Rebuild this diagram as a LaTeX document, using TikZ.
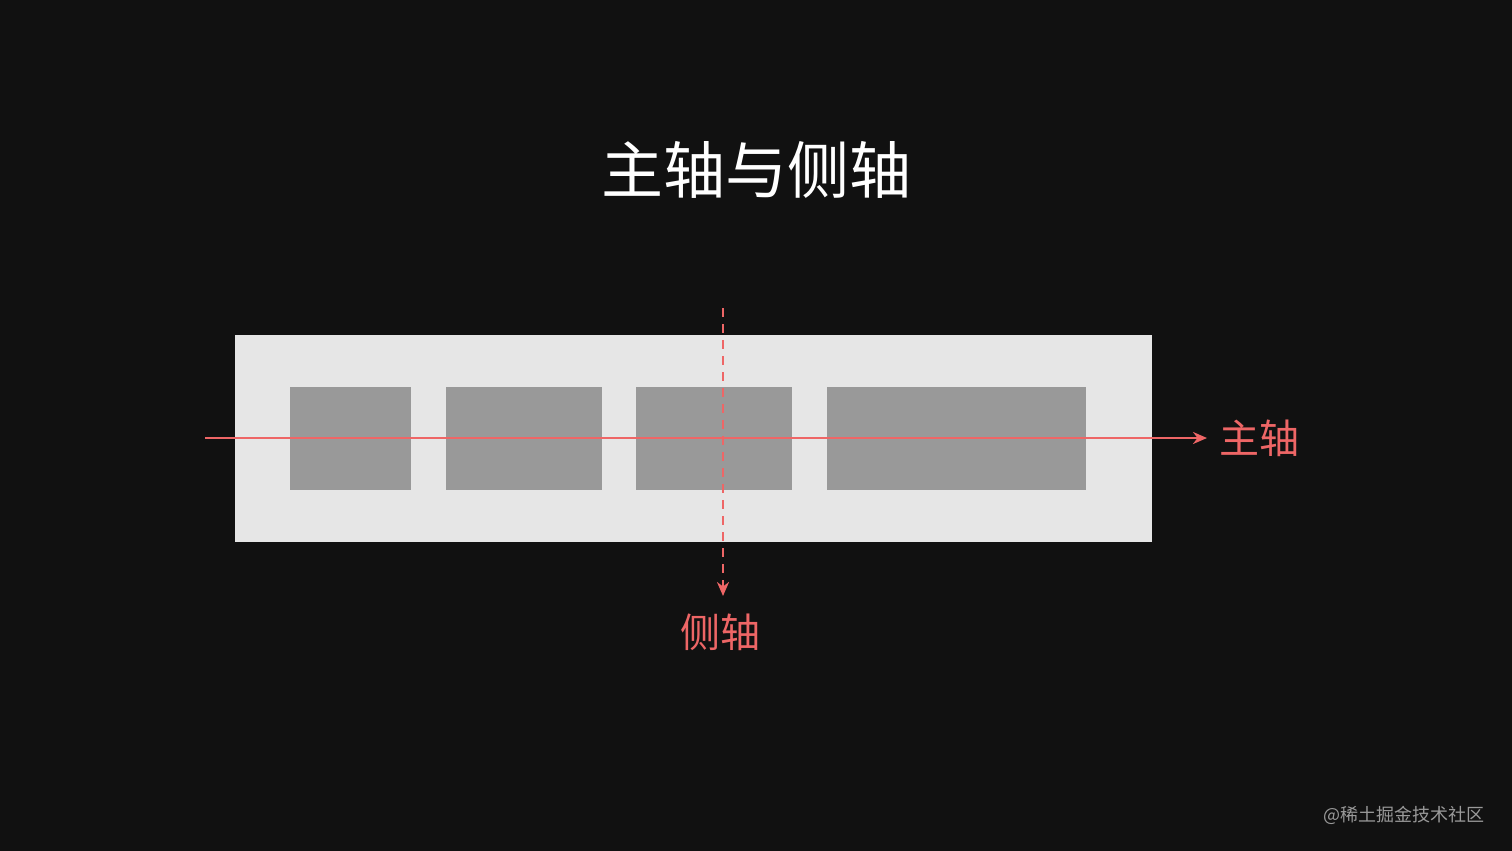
\documentclass[tikz,border=0pt]{standalone}
\usepackage{fontspec}
\newfontfamily\cjk{Noto Sans CJK SC}
\usetikzlibrary{arrows.meta}
\definecolor{bg}{HTML}{111111}
\definecolor{cont}{HTML}{E6E6E6}
\definecolor{item}{HTML}{999999}
\definecolor{axis}{HTML}{EE6666}
\begin{document}
\begin{tikzpicture}[x=1pt,y=-1pt,
  itembox/.style={fill=item,draw=none},
  axisline/.style={draw=axis,line width=2.5pt,-{Stealth[length=14pt,width=12pt]}}]
\fill[bg] (0,0) rectangle (1512,851);
\useasboundingbox (0,0) rectangle (1512,851);
\node[text=white,font=\cjk\fontsize{62}{70}\selectfont] (title) at (756,170) {主轴与侧轴};
\fill[cont] (235,335) rectangle (1152,542);
\fill[itembox] (290,387) rectangle (411,490);
\fill[itembox] (446,387) rectangle (602,490);
\fill[itembox] (636,387) rectangle (792,490);
\fill[itembox] (827,387) rectangle (1086,490);
\coordinate (hs) at (205,438);
\coordinate (he) at (1207,438);
\coordinate (vs) at (723,308);
\coordinate (ve) at (723,596);
\draw[axisline] (hs) -- (he);
\draw[axisline,dash pattern=on 9pt off 7pt] (vs) -- (ve);
\node[text=axis,font=\cjk\fontsize{40}{44}\selectfont,anchor=west] (main) at (1216,438) {主轴};
\node[text=axis,font=\cjk\fontsize{40}{44}\selectfont] (cross) at (720,632) {侧轴};
\node[text=gray!80,font=\cjk\fontsize{18}{20}\selectfont,anchor=east] (wm) at (1488,815) {@稀土掘金技术社区};
\end{tikzpicture}
\end{document}
